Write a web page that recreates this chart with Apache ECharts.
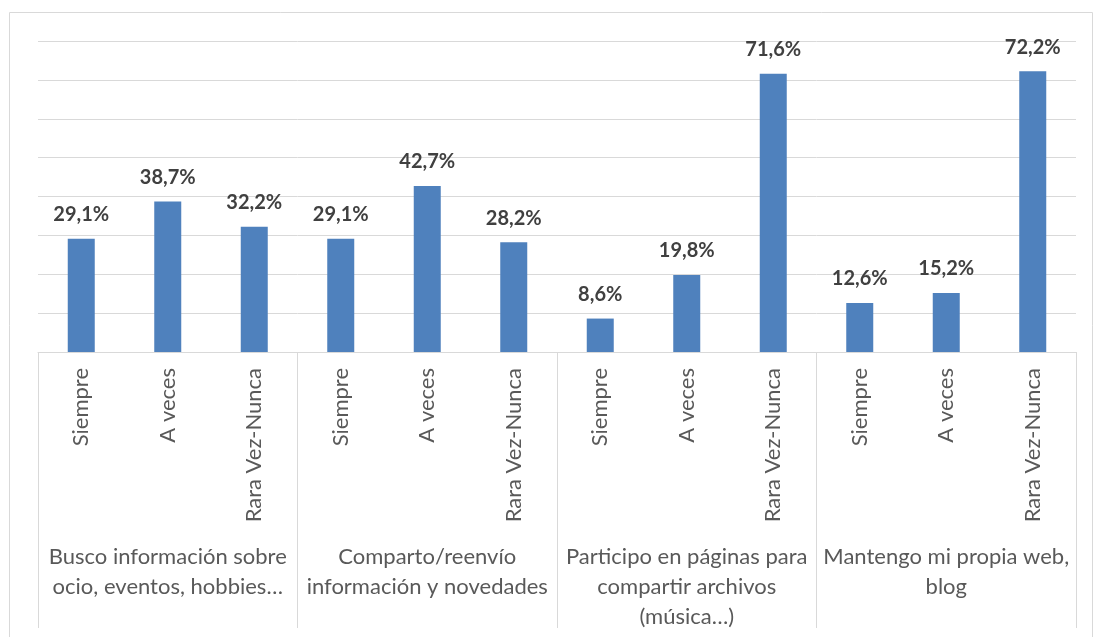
<!DOCTYPE html>
<html>
<head>
<meta charset="utf-8">
<script src="https://cdn.jsdelivr.net/npm/echarts@6/dist/echarts.min.js"></script>
<style>
  html, body { margin: 0; padding: 0; background: #fff; }
  #chart { width: 1094px; height: 637px; }
</style>
</head>
<body>
<div id="chart"></div>
<script>
// respuestas por actividad
var answers = ["Siempre", "A veces", "Rara Vez-Nunca"];
var groups = [
  "Busco información sobre\nocio, eventos, hobbies…",
  "Comparto/reenvío\ninformación y novedades",
  "Participo en páginas para\ncompartir archivos\n(música…)",
  "Mantengo mi propia web,\nblog"
];
var busco = [29.1, 38.7, 32.2];
var comparto = [29.1, 42.7, 28.2];
var participo = [8.6, 19.8, 71.6];
var mantengo = [12.6, 15.2, 72.2];

var categories = [];
groups.forEach(function () { categories = categories.concat(answers); });
var values = [].concat(busco, comparto, participo, mantengo);

var font = "Lato, 'Noto Sans', sans-serif";

var chart = echarts.init(document.getElementById("chart"));
chart.setOption({
  animation: false,
  textStyle: { fontFamily: font },
  graphic: [{
    type: "rect",
    shape: { x: 9.5, y: 12.5, width: 1083, height: 700 },
    style: { fill: "none", stroke: "#d9d9d9", lineWidth: 1 },
    silent: true
  }],
  grid: { left: 38, right: 18, top: 41, bottom: 285 },
  xAxis: [
    {
      type: "category",
      data: categories,
      axisLine: { lineStyle: { color: "#d9d9d9", width: 1 } },
      axisTick: { show: false },
      axisLabel: {
        interval: 0,
        rotate: 90,
        margin: 16,
        color: "#595959",
        fontSize: 22,
        fontFamily: font
      }
    },
    {
      type: "category",
      position: "bottom",
      data: groups,
      axisLine: { show: false },
      axisTick: { show: true, length: 276, lineStyle: { color: "#d9d9d9", width: 1 } },
      axisLabel: {
        interval: 0,
        margin: 190,
        color: "#595959",
        fontSize: 22,
        lineHeight: 30,
        fontFamily: font
      }
    }
  ],
  yAxis: {
    type: "value",
    min: 0,
    max: 80,
    interval: 10,
    axisLabel: { show: false },
    axisLine: { show: false },
    axisTick: { show: false },
    splitLine: { lineStyle: { color: "#d9d9d9", width: 1 } }
  },
  series: [{
    type: "bar",
    xAxisIndex: 0,
    data: values,
    barWidth: 27,
    itemStyle: { color: "#4f81bd" },
    label: {
      show: true,
      position: "top",
      distance: 14,
      color: "#404040",
      fontSize: 20,
      fontWeight: "bold",
      fontFamily: font,
      formatter: function (p) {
        return p.value.toFixed(1).replace(".", ",") + "%";
      }
    }
  }]
});
</script>
</body>
</html>
